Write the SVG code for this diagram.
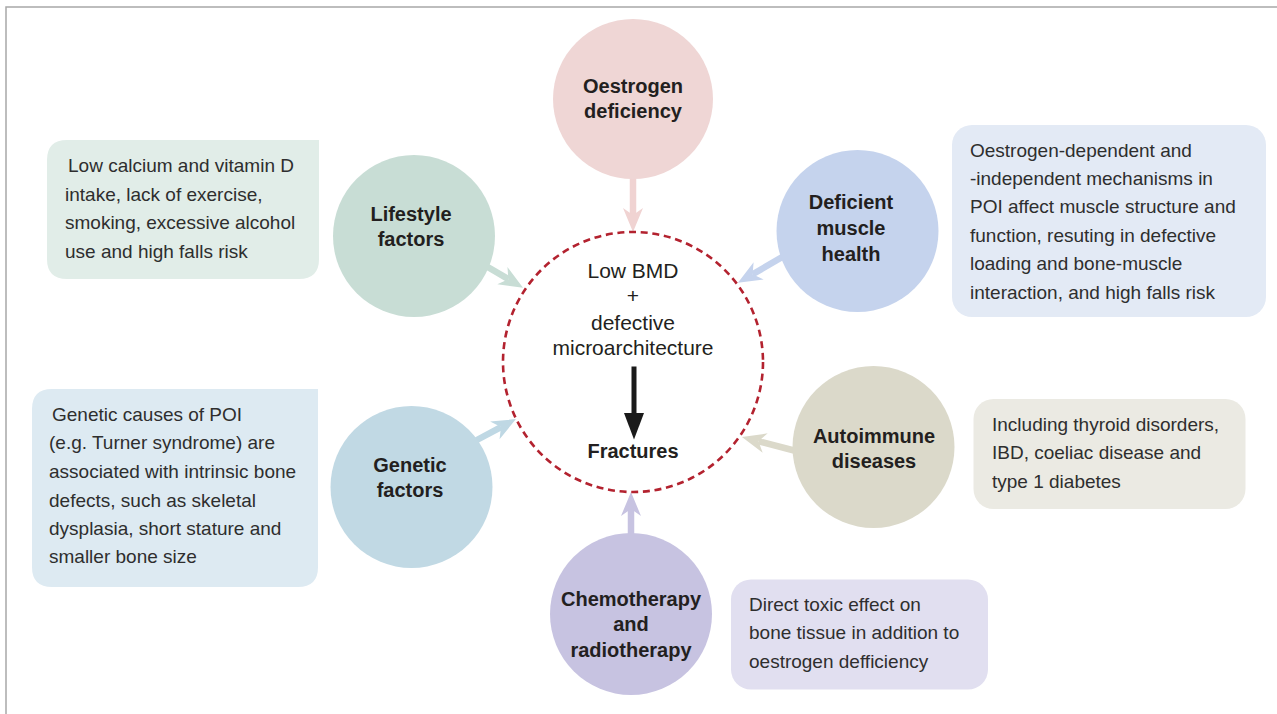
<svg xmlns="http://www.w3.org/2000/svg" width="1277" height="714" viewBox="0 0 1277 714">
<defs>
<style>
.node-t{font-family:"Liberation Sans",Arial,sans-serif;font-weight:bold;font-size:20px;fill:#231f20;text-anchor:middle}
.box-t{font-family:"Liberation Sans",Arial,sans-serif;font-size:19px;fill:#2e2e2e}
.ctr-t{font-family:"Liberation Sans",Arial,sans-serif;font-size:21px;fill:#231f20;text-anchor:middle}
.conn{stroke-width:6.5;fill:none}
</style>
<marker id="mPink" markerUnits="userSpaceOnUse" markerWidth="26" markerHeight="22" viewBox="0 -11 26 22" refX="7" refY="0" orient="auto"><path d="M24,0 L0,-10 L7,0 L0,10 Z" fill="#f0d3d2"/></marker>
<marker id="mGreen" markerUnits="userSpaceOnUse" markerWidth="26" markerHeight="22" viewBox="0 -11 26 22" refX="7" refY="0" orient="auto"><path d="M24,0 L0,-10 L7,0 L0,10 Z" fill="#c8ddd5"/></marker>
<marker id="mBlue" markerUnits="userSpaceOnUse" markerWidth="26" markerHeight="22" viewBox="0 -11 26 22" refX="7" refY="0" orient="auto"><path d="M24,0 L0,-10 L7,0 L0,10 Z" fill="#c5d3ed"/></marker>
<marker id="mCyan" markerUnits="userSpaceOnUse" markerWidth="26" markerHeight="22" viewBox="0 -11 26 22" refX="7" refY="0" orient="auto"><path d="M24,0 L0,-10 L7,0 L0,10 Z" fill="#bfd8e4"/></marker>
<marker id="mBeige" markerUnits="userSpaceOnUse" markerWidth="26" markerHeight="22" viewBox="0 -11 26 22" refX="7" refY="0" orient="auto"><path d="M24,0 L0,-10 L7,0 L0,10 Z" fill="#dbd9ca"/></marker>
<marker id="mLilac" markerUnits="userSpaceOnUse" markerWidth="26" markerHeight="22" viewBox="0 -11 26 22" refX="7" refY="0" orient="auto"><path d="M24,0 L0,-10 L7,0 L0,10 Z" fill="#c7c3e1"/></marker>
</defs>
<rect x="0" y="0" width="1277" height="714" fill="#ffffff"/>
<path d="M6,714 L6,7 L1277,7" fill="none" stroke="#a8a8a8" stroke-width="1.5"/>

<g id="connectors">
<line class="conn" x1="633" y1="178" x2="633" y2="215" stroke="#f0d3d2" marker-end="url(#mPink)"/>
<line class="conn" x1="486" y1="266" x2="508.4" y2="279.2" stroke="#c8ddd5" marker-end="url(#mGreen)"/>
<line class="conn" x1="784" y1="256" x2="752.6" y2="274.3" stroke="#c5d3ed" marker-end="url(#mBlue)"/>
<line class="conn" x1="475" y1="441" x2="501" y2="427.1" stroke="#bfd8e4" marker-end="url(#mCyan)"/>
<line class="conn" x1="796" y1="451" x2="758.4" y2="441.3" stroke="#dbd9ca" marker-end="url(#mBeige)"/>
<line class="conn" x1="631" y1="535" x2="631" y2="509" stroke="#c7c3e1" marker-end="url(#mLilac)"/>
</g>

<g id="center">
<circle cx="633" cy="362" r="130" fill="none" stroke="#b3222f" stroke-width="2.6" stroke-dasharray="7 4.7"/>
<text class="ctr-t" x="633" y="278">Low BMD</text>
<text class="ctr-t" x="633" y="303">+</text>
<text class="ctr-t" x="633" y="330">defective</text>
<text class="ctr-t" x="633" y="355">microarchitecture</text>
<rect x="631.5" y="366.5" width="5" height="48" fill="#1a1a1a"/>
<path d="M624,413 L644,413 L634,439.5 Z" fill="#1a1a1a"/>
<text class="node-t" x="633" y="458">Fractures</text>
</g>

<g id="oestrogen">
<circle cx="633" cy="99" r="80" fill="#efd6d5"/>
<text class="node-t" x="633" y="93">Oestrogen</text>
<text class="node-t" x="633" y="118">deficiency</text>
</g>

<g id="lifestyle">
<circle cx="414" cy="236" r="81" fill="#c8ddd5"/>
<text class="node-t" x="411" y="221">Lifestyle</text>
<text class="node-t" x="411" y="246">factors</text>
</g>
<g id="lifestyle-note">
<path d="M67,140 L319,140 L319,259 Q319,279 299,279 L67,279 Q47,279 47,259 L47,160 Q47,140 67,140 Z" fill="#e1ede8"/>
<text class="box-t" x="68" y="172">Low calcium and vitamin D</text>
<text class="box-t" x="65" y="201">intake, lack of exercise,</text>
<text class="box-t" x="65" y="229">smoking, excessive alcohol</text>
<text class="box-t" x="65" y="258">use and high falls risk</text>
</g>

<g id="muscle">
<circle cx="857.5" cy="231" r="81" fill="#c5d3ed"/>
<text class="node-t" x="851" y="209">Deficient</text>
<text class="node-t" x="851" y="235">muscle</text>
<text class="node-t" x="851" y="261">health</text>
</g>
<g id="muscle-note">
<rect x="952" y="125" width="314" height="192" rx="20" fill="#e3eaf5"/>
<text class="box-t" x="970" y="157">Oestrogen-dependent and</text>
<text class="box-t" x="970" y="185">-independent mechanisms in</text>
<text class="box-t" x="970" y="213">POI affect muscle structure and</text>
<text class="box-t" x="970" y="242">function, resuting in defective</text>
<text class="box-t" x="970" y="270">loading and bone-muscle</text>
<text class="box-t" x="970" y="299">interaction, and high falls risk</text>
</g>

<g id="genetic">
<circle cx="411.5" cy="487" r="81" fill="#c1d9e4"/>
<text class="node-t" x="410" y="472">Genetic</text>
<text class="node-t" x="410" y="497">factors</text>
</g>
<g id="genetic-note">
<path d="M52,389 L318,389 L318,567 Q318,587 298,587 L52,587 Q32,587 32,567 L32,409 Q32,389 52,389 Z" fill="#ddeaf2"/>
<text class="box-t" x="52" y="421">Genetic causes of POI</text>
<text class="box-t" x="49" y="449">(e.g. Turner syndrome) are</text>
<text class="box-t" x="49" y="478">associated with intrinsic bone</text>
<text class="box-t" x="49" y="507">defects, such as skeletal</text>
<text class="box-t" x="49" y="535">dysplasia, short stature and</text>
<text class="box-t" x="49" y="563">smaller bone size</text>
</g>

<g id="autoimmune">
<circle cx="873.5" cy="447" r="81" fill="#dbd9ca"/>
<text class="node-t" x="874" y="443">Autoimmune</text>
<text class="node-t" x="874" y="468">diseases</text>
</g>
<g id="autoimmune-note">
<rect x="973.5" y="399" width="272" height="110" rx="20" fill="#ebeae3"/>
<text class="box-t" x="992" y="431">Including thyroid disorders,</text>
<text class="box-t" x="992" y="459">IBD, coeliac disease and</text>
<text class="box-t" x="992" y="488">type 1 diabetes</text>
</g>

<g id="chemo">
<circle cx="631" cy="614" r="81" fill="#c7c3e1"/>
<text class="node-t" x="631" y="606">Chemotherapy</text>
<text class="node-t" x="631" y="631">and</text>
<text class="node-t" x="631" y="657">radiotherapy</text>
</g>
<g id="chemo-note">
<rect x="731" y="579.5" width="257" height="110" rx="20" fill="#e1dff0"/>
<text class="box-t" x="749" y="611">Direct toxic effect on</text>
<text class="box-t" x="749" y="639">bone tissue in addition to</text>
<text class="box-t" x="749" y="668">oestrogen defficiency</text>
</g>
</svg>
